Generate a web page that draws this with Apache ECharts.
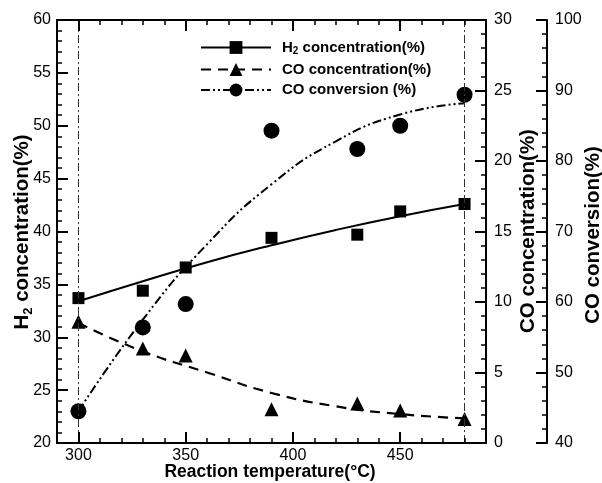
<!DOCTYPE html>
<html><head><meta charset="utf-8">
<script src="https://cdn.jsdelivr.net/npm/echarts@6/dist/echarts.min.js"></script>
<style>html,body{margin:0;padding:0;background:#fff}#wrap{position:relative;width:602px;height:483px}#c,#t{position:absolute;left:0;top:0;width:602px;height:483px}#t{pointer-events:none}</style>
</head><body><div id="wrap"><div id="c"></div><div id="t"></div></div>
<script>
// ---- data ----
const temps = [300, 330, 350, 390, 430, 450, 480];
const h2Conc = [33.7, 34.4, 36.6, 39.4, 39.7, 41.9, 42.6];
const coConc = [8.6, 6.7, 6.2, 2.4, 2.8, 2.3, 1.7];
const coConv = [44.5, 56.4, 59.7, 84.3, 81.7, 85.0, 89.4];
// fitted trend curves
const fitTemps = [300, 330, 360, 390, 420, 450, 480];
const h2Fit = [33.4, 35.3, 37.1, 38.7, 40.15, 41.45, 42.6];
const coConcFit = [8.5, 6.5, 5.0, 3.55, 2.6, 2.05, 1.75];
const coConvFit = [44.5, 57.5, 68.2, 76.7, 82.8, 86.6, 88.2];
// reference lines, axis ranges and tick labels
const refTemps = [300, 480];
const xRange = [290, 490];
const h2Range = [20, 60];
const coConcRange = [0, 30];
const coConvRange = [40, 100];
const xMajorTicks = [300, 350, 400, 450];
const seriesNames = ['H2 concentration(%)', 'CO concentration(%)', 'CO conversion (%)'];

const FONT = 'Liberation Sans';
const BLACK = '#000';
const GRID = { left: 57, top: 20, right: 116, bottom: 40 };
const pair = (xs, ys) => xs.map((x, i) => [x, ys[i]]);

// showParts: 'main' draws axis lines + labels, 'ticks' draws only the ticks
function xAxisDef(pos, major, part) {
  const a = {
    type: 'value', min: xRange[0], max: xRange[1], position: pos,
    axisLine: { show: part === 'main' && major, lineStyle: { color: BLACK, width: 2 } },
    splitLine: { show: false },
    axisLabel: { show: false },
    axisTick: { show: part === 'ticks', inside: true }
  };
  if (major) {
    a.axisTick.length = 11;
    a.axisTick.lineStyle = { color: BLACK, width: 2 };
    a.axisTick.customValues = xMajorTicks;
    if (pos === 'bottom' && part === 'main') {
      a.axisLabel = { show: true, customValues: xMajorTicks, color: BLACK, fontSize: 16, fontFamily: FONT, margin: 5 };
    }
  } else {
    a.interval = 10;
    a.axisTick.length = 5;
    a.axisTick.lineStyle = { color: BLACK, width: 1.5 };
  }
  return a;
}

function yAxisDef(range, interval, pos, offset, part) {
  return {
    type: 'value', min: range[0], max: range[1], interval, position: pos, offset: offset || 0,
    axisLine: { show: part === 'main', lineStyle: { color: BLACK, width: 2 } },
    axisTick: { show: part === 'ticks', inside: true, length: 11, lineStyle: { color: BLACK, width: 2 } },
    minorTick: { show: part === 'ticks', splitNumber: 5, length: 5, lineStyle: { color: BLACK, width: 1.5 } },
    axisLabel: { show: part === 'main', color: BLACK, fontSize: 16, fontFamily: FONT, margin: pos === 'left' ? 6 : 8 },
    splitLine: { show: false }, minorSplitLine: { show: false }
  };
}
const axesFor = part => ({
  xAxis: [xAxisDef('bottom', true, part), xAxisDef('bottom', false, part), xAxisDef('top', true, part), xAxisDef('top', false, part)],
  yAxis: [yAxisDef(h2Range, 5, 'left', 0, part), yAxisDef(coConcRange, 5, 'right', 0, part), yAxisDef(coConvRange, 10, 'right', 61, part)]
});

const richM = (size, lh) => ({ fontSize: size, fontWeight: 'bold', fontFamily: FONT, color: BLACK, lineHeight: lh, verticalAlign: 'middle' });
const richS = (size, lh) => ({ fontSize: size, fontWeight: 'bold', fontFamily: FONT, color: BLACK, lineHeight: lh, verticalAlign: 'bottom' });
const plain = size => ({ fill: BLACK, fontSize: size, fontWeight: 'bold', fontFamily: FONT, align: 'center', verticalAlign: 'middle' });

const mainAxes = axesFor('main');
const chart = echarts.init(document.getElementById('c'), null, { renderer: 'canvas' });
chart.setOption({
  animation: false,
  backgroundColor: '#fff',
  grid: GRID,
  xAxis: mainAxes.xAxis,
  yAxis: mainAxes.yAxis,
  legend: {
    data: seriesNames, orient: 'vertical', left: 200, top: 40, padding: 0,
    itemWidth: 70, itemHeight: 16, itemGap: 5.5, selectedMode: false,
    formatter: n => n.startsWith('H2') ? '{m|H}{s|2}{m| concentration(%)}' : '{m|' + n + '}',
    textStyle: { padding: [0, 0, 0, 6], rich: { m: richM(15, 18), s: richS(10, 8) } }
  },
  series: [
    { name: seriesNames[0], type: 'line', xAxisIndex: 0, yAxisIndex: 0, data: pair(fitTemps, h2Fit),
      smooth: true, symbol: 'rect', showSymbol: false, lineStyle: { color: BLACK, width: 2, type: 'solid' }, itemStyle: { color: BLACK } },
    { name: seriesNames[1], type: 'line', xAxisIndex: 0, yAxisIndex: 1, data: pair(fitTemps, coConcFit),
      smooth: true, symbol: 'triangle', showSymbol: false, lineStyle: { color: BLACK, width: 2.2, type: [10, 7] }, itemStyle: { color: BLACK } },
    { name: seriesNames[2], type: 'line', xAxisIndex: 0, yAxisIndex: 2, data: pair(fitTemps, coConvFit),
      smooth: true, symbol: 'circle', showSymbol: false, lineStyle: { color: BLACK, width: 2, type: [9, 3, 2, 3, 2, 3] }, itemStyle: { color: BLACK } },
    { name: 'h2pts', type: 'scatter', xAxisIndex: 0, yAxisIndex: 0, data: pair(temps, h2Conc),
      symbol: 'rect', symbolSize: 12, itemStyle: { color: BLACK, opacity: 1 },
      markLine: { silent: true, symbol: ['none', 'none'], label: { show: false },
        lineStyle: { color: '#333', width: 1, type: [8, 3, 2, 3] },
        data: refTemps.map(t => ({ xAxis: t })) } },
    { name: 'copts', type: 'scatter', xAxisIndex: 0, yAxisIndex: 1, data: pair(temps, coConc),
      symbol: 'triangle', symbolSize: 14, itemStyle: { color: BLACK, opacity: 1 } },
    { name: 'convpts', type: 'scatter', xAxisIndex: 0, yAxisIndex: 2, data: pair(temps, coConv),
      symbol: 'circle', symbolSize: 16, itemStyle: { color: BLACK, opacity: 1 } }
  ],
  graphic: [
    { type: 'text', x: 270, y: 472, style: Object.assign({ text: 'Reaction temperature(°C)' }, plain(17.5)) },
    { type: 'text', x: 22, y: 232, rotation: Math.PI / 2,
      style: { text: '{m|H}{s|2}{m| concentration(%)}', align: 'center', verticalAlign: 'middle', rich: { m: richM(20.5, 26), s: richS(13, 11) } } },
    { type: 'text', x: 528, y: 231, rotation: Math.PI / 2, style: Object.assign({ text: 'CO concentration(%)' }, plain(20.5)) },
    { type: 'text', x: 593, y: 235, rotation: Math.PI / 2, style: Object.assign({ text: 'CO conversion(%)' }, plain(20.5)) }
  ]
});

// transparent overlay that draws the axis ticks (same grid, same scales)
const tickAxes = axesFor('ticks');
const tickChart = echarts.init(document.getElementById('t'), null, { renderer: 'canvas' });
tickChart.setOption({
  animation: false,
  backgroundColor: 'transparent',
  grid: GRID,
  xAxis: tickAxes.xAxis,
  yAxis: tickAxes.yAxis,
  series: []
});
</script>
</body></html>
